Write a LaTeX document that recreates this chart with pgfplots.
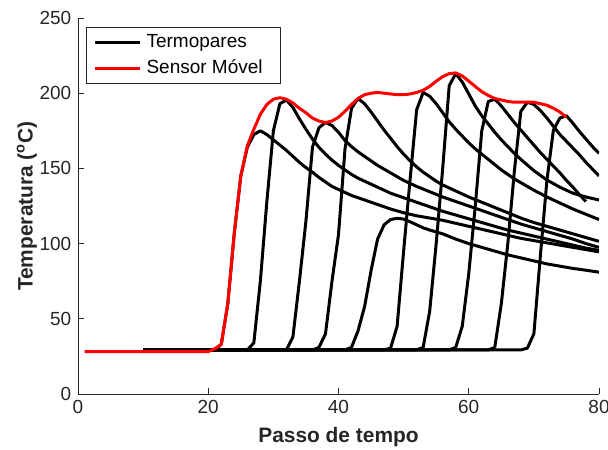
\documentclass[border=0pt]{standalone}
\usepackage{pgfplots}
\pgfplotsset{compat=1.18}
\usepackage{fontspec}
\setmainfont{Liberation Sans}
\definecolor{axgray}{RGB}{38,38,38}
\definecolor{sensred}{RGB}{255,0,0}

\begin{document}
\fontsize{9.5bp}{11.4bp}\selectfont
\begin{tikzpicture}
\useasboundingbox (-39bp,-28bp) rectangle (265bp,197bp);
\begin{axis}[
  scale only axis, width=260.5bp, height=188bp,
  xmin=0, xmax=80, ymin=0, ymax=250,
  axis x line*=bottom, axis y line*=left,
  axis line style={axgray, line width=0.5bp, -},
  xtick={0,20,...,80}, ytick={0,50,...,250},
  tick align=inside, major tick length=3bp,
  tick style={axgray, line width=0.5bp},
  ticklabel style={font=\fontsize{9.5bp}{11.4bp}\selectfont, text=axgray},
  /pgf/number format/assume math mode=true,
  xlabel={Passo de tempo},
  ylabel={Temperatura (\textsuperscript{o}C)},
  label style={font=\fontsize{10.45bp}{12.5bp}\selectfont\bfseries, text=axgray},
  xlabel style={at={(axis description cs:0.5,-0.114)}, anchor=center},
  ylabel style={at={(axis description cs:-0.098,0.5)}, anchor=center},
  legend cell align=left,
  legend image code/.code={\draw[#1] (0bp,0bp) -- (22.5bp,0bp);},
  legend style={at={(axis description cs:0.0154,0.976)}, anchor=north west,
    draw=axgray, line width=0.5bp, fill=white,
    font=\fontsize{9.5bp}{11.4bp}\selectfont,
    inner xsep=3.5bp, inner ysep=3.1bp, row sep=4.3bp, column sep=2.5bp,
    nodes={inner sep=0pt, text height=6.8bp, text depth=1.9bp}},
  every axis plot/.append style={line width=1.5bp, line join=round},
]
% thermocouples
\addplot[black] coordinates {(10,29.3)(21,29.3)(22,33)(23,60)(24,107)(25,145)(26,164)(27,172.5)(28,175)(29,172.5)(30,169)(31,165.5)(32,162)(33,158)(34,154)(35,150.5)(36,147.5)(37,144)(38,141)(39,138)(40,136)(41,134)(42,132)(43,130.5)(44,129)(45,127.5)(46,126)(47,124.5)(48,123)(50,120.5)(52,118.5)(54,117)(56,115.5)(58,113.5)(60,111.5)(62,109.5)(64,107.5)(66,105.5)(68,103.5)(70,102)(72,100.5)(74,99)(76,97.5)(78,96)(80,94.5)};
\addlegendentry{Termopares}
\addplot[black, forget plot] coordinates {(10,29.3)(26,29.3)(27,34)(28,75)(29,128)(30,175)(31,193)(32,195.5)(33,190.5)(34,183)(35,176)(36,169.5)(37,164)(38,159.5)(39,155.5)(40,152)(41,149)(42,146)(43,143.5)(44,141.5)(45,139.5)(46,137.5)(47,135.5)(48,133.5)(49,132)(50,130.5)(52,127.5)(54,124.5)(56,121.5)(58,119)(60,116.5)(62,114)(64,111.5)(66,109)(68,107)(70,105)(72,103)(74,101)(76,99)(78,97)(80,95.5)};
\addplot[black, forget plot] coordinates {(10,29.3)(32,29.3)(33,38)(34,75)(35,115)(36,164)(37,177)(38,180.5)(39,178.5)(40,174)(41,168.5)(42,164.5)(43,161)(44,158)(45,155)(46,152)(47,149.5)(48,147)(49,144.5)(50,142)(52,138)(54,134.5)(56,131)(58,128)(60,125)(62,122)(64,119)(66,116)(68,113)(70,110.5)(72,108)(74,105.5)(76,103)(78,100)(80,97.5)};
\addplot[black, forget plot] coordinates {(10,29.3)(36,29.3)(37,31)(38,40)(39,75)(40,106)(41,163)(42,190)(43,196.5)(44,193)(45,187.5)(46,181.5)(47,175.5)(48,170)(49,164.5)(50,159.5)(51,155)(52,151)(53,147.5)(54,144.5)(55,141.5)(56,139)(57,137)(58,135)(60,131)(62,127.5)(64,124)(66,120.5)(68,117)(70,114)(72,111.5)(74,109)(76,106.5)(78,104)(80,101.5)};
\addplot[black, forget plot] coordinates {(10,29.3)(41,29.3)(42,31)(43,42)(44,58)(45,82)(46,103)(47,112.5)(48,116)(49,116.8)(50,116.3)(51,114.5)(52,112.5)(53,110.5)(54,109)(56,106.5)(58,103)(60,100)(62,97.5)(64,95)(66,92.5)(68,90.5)(70,88.5)(72,86.5)(74,85)(76,83.5)(78,82.3)(80,81)};
\addplot[black, forget plot] coordinates {(10,29.3)(47,29.3)(48,30.5)(49,45)(50,95)(51,143)(52,189)(53,200.5)(54,198)(55,193)(56,187)(57,181)(58,176)(59,171.5)(60,167)(61,163)(62,159.5)(63,156)(64,152.5)(65,149)(66,146)(67,143)(68,140.5)(70,135.5)(72,131)(74,127)(76,123)(78,119.5)(80,116)};
\addplot[black, forget plot] coordinates {(10,29.3)(52,29.3)(53,31)(54,55)(55,100)(56,150)(57,205)(58,213)(59,207.5)(60,199.5)(61,191.5)(62,185)(63,179.5)(64,174)(65,169)(66,164.5)(67,160)(68,156)(70,148.5)(72,142.3)(74,137.5)(76,133.5)(78,131)(80,129)};
\addplot[black, forget plot] coordinates {(10,29.3)(57,29.3)(58,31)(59,45)(60,80)(61,125)(62,175)(63,194.5)(64,196)(65,191.5)(66,186)(67,180.5)(68,175.5)(69,170.5)(70,165.5)(71,160.5)(72,156)(73,151.5)(74,147)(75,142)(76,137.5)(77,132.5)(78,128)};
\addplot[black, forget plot] coordinates {(10,29.3)(63,29.3)(64,31)(65,60)(66,100)(67,148)(68,188)(69,194)(70,192.5)(71,188.5)(72,183.5)(73,178)(74,172.5)(75,168)(76,163.5)(77,159)(78,154)(79,149.5)(80,145)};
\addplot[black, forget plot] coordinates {(10,29.3)(68,29.3)(69,30.5)(70,40)(71,92)(72,142)(73,175.5)(74,183.5)(75,185)(76,180)(77,174.5)(78,169.5)(79,164.5)(80,160)};
% moving sensor
\addplot[sensred] coordinates {(1,28.2)(20,28.2)(21,30)(22,33)(23,60)(24,107)(25,145)(26,165)(27,176)(28,186)(29,192.5)(30,196)(31,197)(32,196)(33,193.5)(34,190)(35,187)(36,183.5)(37,181.5)(38,180.5)(39,181.5)(40,184)(41,188)(42,192.5)(43,196.5)(44,199)(45,200)(46,200.5)(47,200)(48,199.5)(49,199)(50,199)(51,199.5)(52,200.5)(53,202)(54,204.5)(55,208)(56,211)(57,213)(58,213.5)(59,211.5)(60,208)(61,204.5)(62,201)(63,198.5)(64,196.5)(65,195.5)(66,194.5)(67,194)(68,194)(69,194)(70,194)(71,193)(72,192)(73,190)(74,187.5)(75,184)};
\addlegendentry{Sensor Móvel\hspace*{5.5bp}}
\end{axis}
\end{tikzpicture}
\end{document}
